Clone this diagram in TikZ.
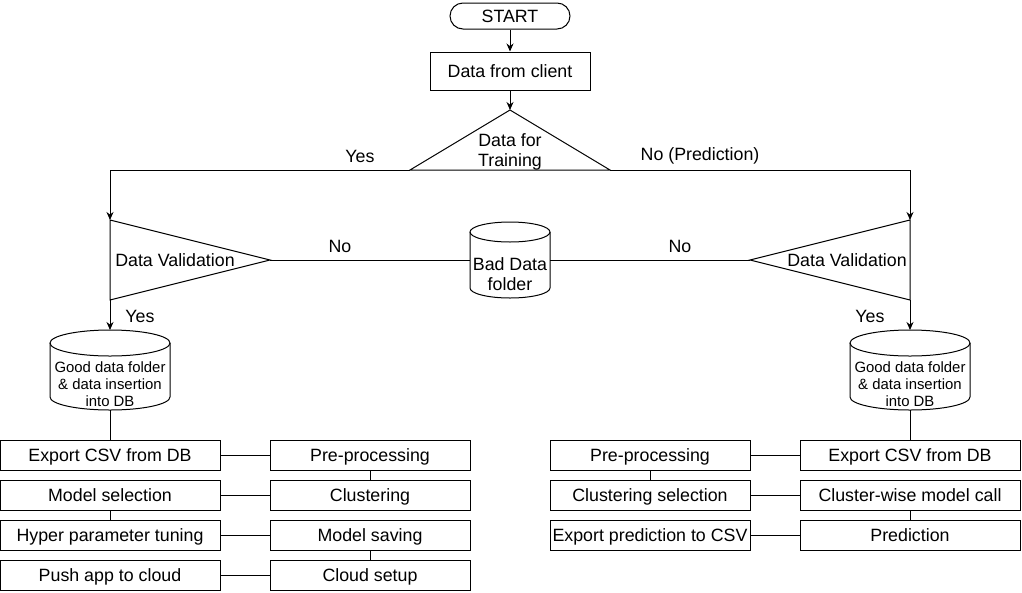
\documentclass[tikz,border=0pt]{standalone}
\usepackage{fontspec}
\setmainfont{Liberation Sans}
\usetikzlibrary{arrows.meta}

\begin{document}
\begin{tikzpicture}[x=1pt, y=-1pt, line width=1pt,
    font=\fontsize{17.8}{20}\selectfont,
    box/.style={draw, minimum height=30pt, inner sep=0pt, text height=14.5pt, text depth=1.5pt},
    small/.style={font=\fontsize{14.9}{17}\selectfont, align=center},
    arr/.style={-{Stealth[length=8pt, width=7pt]}}]
  \useasboundingbox (0,0) rectangle (1022,592);

  % top part
  \node[draw, rounded corners=13pt, minimum width=120pt, minimum height=26pt] (start) at (510,16) {START};
  \node[box, minimum width=160pt, minimum height=38pt] (client) at (510,71) {Data from client};
  \coordinate (dfttop) at (510,110);
  \coordinate (dftl) at (410,170);
  \coordinate (dftr) at (610,170);
  \draw (dftl) -- (dfttop) -- (dftr) -- cycle;
  \node[align=center] (dft) at (510,152) {Data for\\Training};
  \draw[arr] (start) -- (client);
  \draw[arr] (client) -- (dfttop);

  % validation triangles
  \coordinate (dvltop) at (110,220);
  \coordinate (dvlbot) at (110,300);
  \coordinate (dvltip) at (270,260);
  \coordinate (dvrtop) at (910,220);
  \coordinate (dvrbot) at (910,300);
  \coordinate (dvrtip) at (750,260);
  \draw (dvltop) -- (dvltip) -- (dvlbot) -- cycle;
  \draw (dvrtop) -- (dvrtip) -- (dvrbot) -- cycle;
  \node (dvl) at (175,260) {Data Validation};
  \node (dvr) at (847,260) {Data Validation};
  \draw[arr] (dftl) -| (dvltop);
  \draw[arr] (dftr) -| (dvrtop);
  \node (yes1) at (360,156) {Yes};
  \node (nopred) at (700,156) {No (Prediction)};

  % bad data folder
  \draw (510,232) ellipse [x radius=40pt, y radius=10pt];
  \draw (470,232) -- (470,288) arc[start angle=180, end angle=360, x radius=40pt, y radius=10pt] -- (550,232);
  \node[align=center] (bad) at (510,274) {Bad Data\\folder};
  \coordinate (badl) at (470,260);
  \coordinate (badr) at (550,260);
  \draw (dvltip) -- (badl);
  \draw (dvrtip) -- (badr);
  \node (no1) at (340,246) {No};
  \node (no2) at (680,246) {No};

  % good data folders
  \foreach \cx in {110, 910}{
    \draw (\cx,343) ellipse [x radius=60pt, y radius=13pt];
    \draw (\cx-60,343) -- (\cx-60,397) arc[start angle=180, end angle=360, x radius=60pt, y radius=13pt] -- (\cx+60,343);
  }
  \node[small] (gdl) at (110,384) {Good data folder\\\& data insertion\\into DB};
  \node[small] (gdr) at (910,384) {Good data folder\\\& data insertion\\into DB};
  \coordinate (gdltop) at (110,330);
  \coordinate (gdlbot) at (110,410);
  \coordinate (gdrtop) at (910,330);
  \coordinate (gdrbot) at (910,410);
  \draw[arr] (dvlbot) -- (gdltop);
  \draw[arr] (dvrbot) -- (gdrtop);
  \node (yes2) at (140,316) {Yes};
  \node (yes3) at (870,316) {Yes};

  % training steps
  \foreach \n/\t [count=\i] in {lexp/Export CSV from DB, lmod/Model selection,
      lhyp/Hyper parameter tuning, lpush/Push app to cloud}
    \node[box, minimum width=220pt] (\n) at (110,415+40*\i) {\t};
  \foreach \n/\t [count=\i] in {lpre/Pre-processing, lclu/Clustering,
      lsav/Model saving, lcld/Cloud setup}
    \node[box, minimum width=200pt] (\n) at (370,415+40*\i) {\t};
  \foreach \a/\b in {lexp/lpre, lmod/lclu, lhyp/lsav, lpush/lcld}
    \draw (\a) -- (\b);
  \draw (gdlbot) -- (lexp);
  \draw (lpre) -- (lclu);
  \draw (lmod) -- (lhyp);
  \draw (lsav) -- (lcld);

  % prediction steps
  \foreach \n/\t [count=\i] in {rpre/Pre-processing, rclu/Clustering selection,
      rexo/Export prediction to CSV}
    \node[box, minimum width=200pt] (\n) at (650,415+40*\i) {\t};
  \foreach \n/\t [count=\i] in {rexp/Export CSV from DB, rcall/Cluster-wise model call,
      rpred/Prediction}
    \node[box, minimum width=220pt] (\n) at (910,415+40*\i) {\t};
  \foreach \a/\b in {rpre/rexp, rclu/rcall, rexo/rpred}
    \draw (\a) -- (\b);
  \draw (gdrbot) -- (rexp);
  \draw (rpre) -- (rclu);
  \draw (rcall) -- (rpred);
\end{tikzpicture}
\end{document}
